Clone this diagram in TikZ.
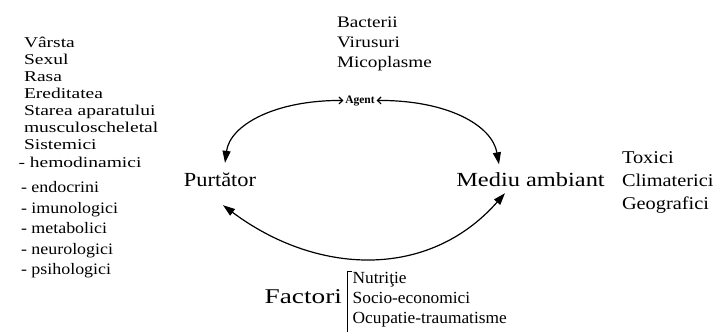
\documentclass[tikz,border=0pt]{standalone}
\usepackage{fontspec}
\setmainfont{Liberation Serif}
\usetikzlibrary{arrows.meta}
\begin{document}
\begin{tikzpicture}[x=1pt,y=1pt,
  every node/.style={inner sep=0pt,outer sep=0pt},
  txt/.style={anchor=base west},
  hostA/.style={txt,font=\fontsize{15}{17}\selectfont,xscale=1.3},
  hostB/.style={txt,font=\fontsize{16}{19}\selectfont,xscale=1.12},
  agents/.style={txt,font=\fontsize{16}{19}\selectfont,xscale=1.2},
  envlist/.style={txt,font=\fontsize{18}{21}\selectfont,xscale=1.13},
  factlist/.style={txt,font=\fontsize{17}{20}\selectfont,xscale=1.02},
  main/.style={anchor=base,font=\fontsize{20}{24}\selectfont},
  bigtip/.tip={Triangle[length=12pt,width=8pt]},
  smalltip/.tip={Straight Barb[length=3.5pt,width=7pt]},
  link/.style={line width=1.2pt,line cap=round}
]
\useasboundingbox (0,0) rectangle (719,-332);

% host characteristics
\foreach \t [count=\i] in {Vârsta,Sexul,Rasa,Ereditatea,Starea aparatului,musculoscheletal,Sistemici}
  \node[hostA] (host\i) at (24,{-47-17.14*(\i-1)}) {\t};
\node[hostA] (host8) at (18.5,-167) {- hemodinamici};
\foreach \t [count=\i] in {- endocrini,- imunologici,- metabolici,- neurologici,- psihologici}
  \node[hostB] (sys\i) at (21,{-192.5-20.5*(\i-1)}) {\t};

% agents
\node[agents] (ag1) at (337,-27.5) {Bacterii};
\node[agents] (ag2) at (337,-47.5) {Virusuri};
\node[agents] (ag3) at (337,-67.5) {Micoplasme};

% environment
\node[envlist] (env1) at (622,-163) {Toxici};
\node[envlist] (env2) at (622,-186) {Climaterici};
\node[envlist] (env3) at (622,-209) {Geografici};

% the triad
\node[anchor=base,font=\fontsize{11.5}{13}\selectfont\bfseries,inner sep=2pt] (agent) at (360,-103) {Agent};
\node[main,xscale=1.12] (purt) at (220,-186) {Purtător};
\node[main,xscale=1.22] (mediu) at (530.5,-186) {Mediu ambiant};

% factors
\node[anchor=base east,font=\fontsize{21}{24}\selectfont,xscale=1.3] (fact) at (342,-303) {Factori};
\node[factlist] (fac1) at (352.7,-283) {Nutriţie};
\node[factlist] (fac2) at (352.7,-303) {Socio-economici};
\node[factlist] (fac3) at (352.7,-323) {Ocupatie-traumatisme};
\draw[line width=1pt] (352,-271) -- (347.6,-271) -- (347.6,-332);

% arrow ends beside the triad nodes
\coordinate (pTop) at ([shift={(5,9.5)}]purt.north);
\coordinate (pBot) at ([shift={(3,-19)}]purt.south);
\coordinate (mTop) at ([shift={(-31.5,7.8)}]mediu.north);
\coordinate (mBot) at ([shift={(-25.5,-7)}]mediu.south);

\draw[link,{bigtip}-{smalltip}] (pTop) .. controls (230,-125) and (275,-100) .. (agent.west);
\draw[link,{smalltip}-{bigtip}] (agent.east) .. controls (447,-100) and (492,-125) .. (mTop);
\draw[link,{bigtip}-{bigtip}] (pBot) .. controls (316,-274.8) and (428,-280.5) .. (mBot);
\end{tikzpicture}
\end{document}
